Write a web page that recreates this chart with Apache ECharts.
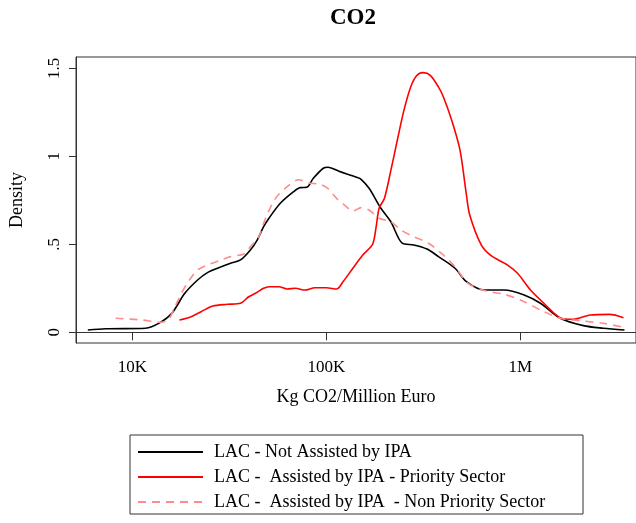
<!DOCTYPE html>
<html>
<head>
<meta charset="utf-8">
<title>CO2</title>
<script src="https://cdn.jsdelivr.net/npm/echarts@6/dist/echarts.min.js"></script>
<style>
  html, body { margin: 0; padding: 0; background: #fff; }
  #main { width: 636px; height: 523px; }
</style>
</head>
<body>
<div id="main"></div>
<script>
// [Kg CO2 / million euro, density]
const notAssisted = [
  [5900, 0.013], [7300, 0.02], [11700, 0.023], [13900, 0.055], [16000, 0.108],
  [18600, 0.22], [21700, 0.297], [24400, 0.339], [27500, 0.364], [32100, 0.392],
  [36100, 0.411], [40600, 0.468], [44000, 0.524], [47500, 0.6], [50600, 0.648],
  [57900, 0.733], [67800, 0.799], [73300, 0.822], [79300, 0.824], [85700, 0.875],
  [96400, 0.932], [102000, 0.938], [117000, 0.913], [132000, 0.894], [143000, 0.881],
  [151000, 0.869], [166000, 0.818], [191000, 0.705], [215000, 0.628], [246000, 0.506],
  [282000, 0.496], [330000, 0.473], [378000, 0.43], [460000, 0.364], [527000, 0.288],
  [653000, 0.24], [826000, 0.24], [1045000, 0.212], [1268000, 0.165], [1603000, 0.08],
  [2109000, 0.038], [2667000, 0.023], [3436000, 0.013]
]
const prioritySector = [
  [17500, 0.07], [20100, 0.089], [22600, 0.117], [26000, 0.149], [30900, 0.159],
  [36100, 0.165], [39800, 0.202], [43200, 0.222], [47500, 0.25], [50600, 0.259],
  [56900, 0.259], [62700, 0.246], [69200, 0.25], [77600, 0.24], [87300, 0.253],
  [100000, 0.253], [113000, 0.246], [122000, 0.288], [137000, 0.364], [154000, 0.439],
  [173000, 0.5], [180000, 0.59], [187000, 0.705], [199000, 0.76], [215000, 0.92],
  [232000, 1.091], [251000, 1.261], [272000, 1.394], [293000, 1.46], [315000, 1.475],
  [343000, 1.46], [378000, 1.394], [401000, 1.337], [442000, 1.206], [488000, 1.036],
  [527000, 0.78], [548000, 0.666], [628000, 0.496], [706000, 0.435], [859000, 0.382],
  [966000, 0.335], [1127000, 0.24], [1321000, 0.165], [1603000, 0.083], [1875000, 0.074],
  [2280000, 0.098], [2884000, 0.102], [3396000, 0.083]
]
const nonPrioritySector = [
  [8200, 0.08], [11200, 0.07], [13900, 0.057], [15300, 0.07], [16600, 0.145],
  [17900, 0.222], [19700, 0.297], [21700, 0.354], [24400, 0.382], [28600, 0.411],
  [32100, 0.43], [37600, 0.445], [40600, 0.486], [44800, 0.543], [48600, 0.648],
  [54700, 0.761], [64000, 0.835], [71900, 0.867], [80800, 0.848], [92700, 0.841],
  [102000, 0.816], [113000, 0.761], [124000, 0.723], [137000, 0.689], [151000, 0.708],
  [166000, 0.695], [187000, 0.648], [215000, 0.628], [242000, 0.581], [282000, 0.543],
  [336000, 0.506], [401000, 0.439], [460000, 0.373], [537000, 0.278], [665000, 0.235],
  [826000, 0.216], [1045000, 0.174], [1268000, 0.127], [1603000, 0.08], [2109000, 0.064],
  [2667000, 0.051], [3436000, 0.028]
]

const xTickValues = [10000, 100000, 1000000]
const xTickLabels = ['10K', '100K', '1M']
const yTickValues = [0, 0.5, 1, 1.5]
const yTickLabels = ['0', '.5', '1', '1.5']

const seriesNames = [
  'LAC - Not Assisted by IPA',
  'LAC -  Assisted by IPA - Priority Sector',
  'LAC -  Assisted by IPA  - Non Priority Sector'
]

const serif = '"Liberation Serif", "DejaVu Serif", serif'

function pickLabel(values, labels, v) {
  for (let i = 0; i < values.length; i++) {
    if (Math.abs(values[i] - v) < 1e-6 * Math.max(1, values[i])) return labels[i]
  }
  return ''
}

const chart = echarts.init(document.getElementById('main'))
const option = {
  animation: false,
  title: {
    text: 'CO2',
    left: 353,
    top: 7,
    padding: 0,
    textAlign: 'center',
    textStyle: { fontFamily: serif, fontSize: 23, fontWeight: 'bold', color: '#000' }
  },
  grid: {
    left: 73,
    top: 57,
    width: 567,
    height: 286,
    show: true,
    borderColor: '#333',
    borderWidth: 1
  },
  legend: {
    orient: 'vertical',
    left: 137,
    top: 443,
    padding: 0,
    itemWidth: 65,
    itemHeight: 14,
    itemGap: 7,
    selectedMode: false,
    itemStyle: { opacity: 0, borderWidth: 0 },
    textStyle: { fontFamily: serif, fontSize: 18, color: '#000', padding: [0, 0, 0, 6] },
    data: seriesNames
  },
  graphic: [{
    type: 'rect',
    shape: { x: 130, y: 435, width: 453, height: 79 },
    style: { fill: 'none', stroke: '#333', lineWidth: 1 }
  }],
  xAxis: {
    type: 'log',
    logBase: 10,
    min: 5128,
    max: 3940000,
    name: 'Kg CO2/Million Euro',
    nameLocation: 'middle',
    nameGap: 54,
    nameTextStyle: { fontFamily: serif, fontSize: 18, color: '#000', verticalAlign: 'middle' },
    axisLine: { lineStyle: { color: '#333', width: 1 } },
    axisTick: { show: true, length: 8, customValues: xTickValues, lineStyle: { color: '#333' } },
    axisLabel: {
      customValues: xTickValues,
      margin: 16,
      fontFamily: serif,
      fontSize: 17,
      color: '#000',
      formatter: v => pickLabel(xTickValues, xTickLabels, v)
    },
    splitLine: { show: false },
    minorTick: { show: false }
  },
  yAxis: {
    type: 'value',
    min: -0.0608,
    max: 1.564,
    name: 'Density',
    nameLocation: 'middle',
    nameGap: 50,
    nameTextStyle: { fontFamily: serif, fontSize: 18, color: '#000' },
    axisLine: { show: true, lineStyle: { color: '#333', width: 1 } },
    axisTick: { show: true, length: 7, customValues: yTickValues, lineStyle: { color: '#333' } },
    axisLabel: {
      customValues: yTickValues,
      rotate: 90,
      margin: 13,
      fontFamily: serif,
      fontSize: 17,
      color: '#000',
      formatter: v => pickLabel(yTickValues, yTickLabels, v)
    },
    splitLine: { show: false }
  },
  series: [
    {
      name: seriesNames[0],
      type: 'line',
      data: notAssisted,
      showSymbol: false,
      symbol: 'none',
      smooth: 0.3,
      itemStyle: { color: '#000' },
      lineStyle: { color: '#000', width: 1.6 }
    },
    {
      name: seriesNames[1],
      type: 'line',
      data: prioritySector,
      showSymbol: false,
      symbol: 'none',
      smooth: 0.3,
      itemStyle: { color: '#ff0000' },
      lineStyle: { color: '#ff0000', width: 1.6 }
    },
    {
      name: seriesNames[2],
      type: 'line',
      data: nonPrioritySector,
      showSymbol: false,
      symbol: 'none',
      smooth: 0.3,
      itemStyle: { color: '#ff8c8c' },
      lineStyle: { color: '#ff8c8c', width: 1.6, type: [8, 6] }
    }
  ]
}
option && chart.setOption(option)
</script>
</body>
</html>
